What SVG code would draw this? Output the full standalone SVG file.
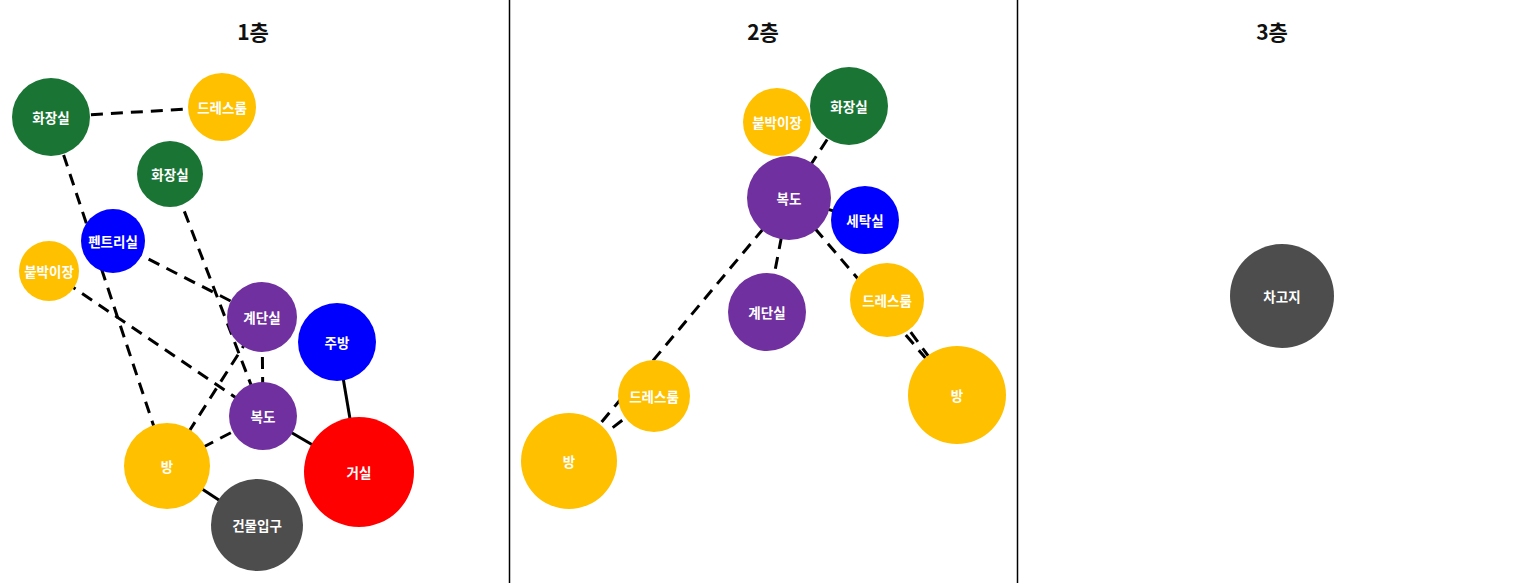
<svg xmlns="http://www.w3.org/2000/svg" width="1526" height="583" viewBox="0 0 1526 583">
<style>
.t{font-family:"Noto Sans CJK KR","Noto Sans",sans-serif;font-weight:bold;fill:#fff;font-size:13.5px;text-anchor:middle;dominant-baseline:central}
.h{font-family:"Noto Sans CJK KR","Noto Sans",sans-serif;font-weight:bold;fill:#111;font-size:21px;text-anchor:middle}
.d{stroke:#000;stroke-width:3;stroke-dasharray:12 8;fill:none}
.s{stroke:#000;stroke-width:3;fill:none}
.g{fill:#1a7535}.y{fill:#ffc000}.b{fill:#0000ff}.p{fill:#7030a0}.r{fill:#ff0000}.k{fill:#4d4d4d}
</style>
<rect width="1526" height="583" fill="#fff"/>
<line x1="509.5" y1="0" x2="509.5" y2="583" stroke="#000" stroke-width="1.5"/>
<line x1="1017.5" y1="0" x2="1017.5" y2="583" stroke="#000" stroke-width="1.5"/>
<text class="h" x="253" y="40">1층</text>
<text class="h" x="763" y="40">2층</text>
<text class="h" x="1272" y="40">3층</text>
<g id="connectors">
<line class="d" x1="51" y1="117" x2="222" y2="107"/>
<line class="d" x1="51" y1="117" x2="167" y2="466"/>
<line class="d" x1="170" y1="174" x2="263" y2="416"/>
<line class="d" x1="113" y1="241" x2="262" y2="317"/>
<line class="d" x1="49" y1="271" x2="263" y2="416"/>
<line class="d" x1="167" y1="466" x2="262" y2="317"/>
<line class="d" x1="167" y1="466" x2="263" y2="416"/>
<line class="d" x1="262" y1="317" x2="263" y2="416"/>
<line class="s" x1="167" y1="466" x2="257" y2="525"/>
<line class="s" x1="263" y1="416" x2="359" y2="472"/>
<line class="s" x1="337" y1="342" x2="359" y2="472"/>
<line class="d" x1="849" y1="106" x2="789" y2="198"/>
<line class="d" x1="789" y1="198" x2="865" y2="220"/>
<line class="d" x1="789" y1="198" x2="767" y2="312"/>
<line class="d" x1="789" y1="198" x2="569" y2="461"/>
<line class="d" x1="654" y1="396" x2="569" y2="461"/>
<line class="d" x1="789" y1="198" x2="957" y2="395"/>
<line class="d" x1="887" y1="300" x2="957" y2="395"/>
</g>
<g id="f1-toilet1"><circle class="g" cx="51" cy="117" r="39"/><text class="t" x="51" y="117">화장실</text></g>
<g id="f1-dress"><circle class="y" cx="222" cy="107" r="34"/><text class="t" x="222" y="107">드레스룸</text></g>
<g id="f1-toilet2"><circle class="g" cx="170" cy="174" r="33"/><text class="t" x="170" y="174">화장실</text></g>
<g id="f1-pantry"><circle class="b" cx="113" cy="241" r="32"/><text class="t" x="113" y="241">펜트리실</text></g>
<g id="f1-closet"><circle class="y" cx="49" cy="271" r="30"/><text class="t" x="49" y="271">붙박이장</text></g>
<g id="f1-stairs"><circle class="p" cx="262" cy="317" r="35"/><text class="t" x="262" y="317">계단실</text></g>
<g id="f1-kitchen"><circle class="b" cx="337" cy="342" r="39"/><text class="t" x="337" y="342">주방</text></g>
<g id="f1-hall"><circle class="p" cx="263" cy="416" r="34"/><text class="t" x="263" y="416">복도</text></g>
<g id="f1-room"><circle class="y" cx="167" cy="466" r="43"/><text class="t" x="167" y="466">방</text></g>
<g id="f1-living"><circle class="r" cx="359" cy="472" r="55"/><text class="t" x="359" y="472">거실</text></g>
<g id="f1-entrance"><circle class="k" cx="257" cy="525" r="46"/><text class="t" x="257" y="525">건물입구</text></g>
<g id="f2-closet"><circle class="y" cx="777" cy="122" r="34"/><text class="t" x="777" y="122">붙박이장</text></g>
<g id="f2-toilet"><circle class="g" cx="849" cy="106" r="39"/><text class="t" x="849" y="106">화장실</text></g>
<g id="f2-hall"><circle class="p" cx="789" cy="198" r="42"/><text class="t" x="789" y="198">복도</text></g>
<g id="f2-laundry"><circle class="b" cx="865" cy="220" r="34"/><text class="t" x="865" y="220">세탁실</text></g>
<g id="f2-stairs"><circle class="p" cx="767" cy="312" r="39"/><text class="t" x="767" y="312">계단실</text></g>
<g id="f2-dress2"><circle class="y" cx="887" cy="300" r="37"/><text class="t" x="887" y="300">드레스룸</text></g>
<g id="f2-room2"><circle class="y" cx="957" cy="395" r="49"/><text class="t" x="957" y="395">방</text></g>
<g id="f2-dress1"><circle class="y" cx="654" cy="396" r="36"/><text class="t" x="654" y="396">드레스룸</text></g>
<g id="f2-room1"><circle class="y" cx="569" cy="461" r="48"/><text class="t" x="569" y="461">방</text></g>
<g id="f3-garage"><circle class="k" cx="1282" cy="296" r="52"/><text class="t" x="1282" y="296">차고지</text></g>
</svg>
